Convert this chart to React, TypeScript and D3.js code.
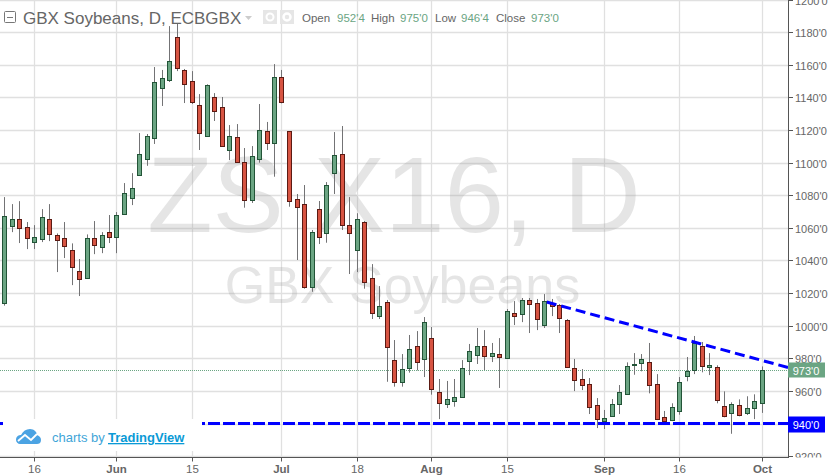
import React from "react";
import * as d3 from "d3";

const opens = [1014.1,1061.3,1065.2,1060.3,1051.5,1053.3,1065.2,1055.4,1053.5,1046.2,1033.3,1029.0,1053.5,1048.4,1057.2,1054.6,1068.7,1078.5,1092.6,1102.4,1114.9,1146.0,1150.9,1176.9,1156.7,1149.9,1135.2,1116.5,1140.1,1134.0,1107.6,1115.6,1100.2,1077.3,1102.1,1119.2,1111.9,1152.4,1119.2,1077.5,1074.5,1023.9,1071.4,1056.7,1093.8,1105.1,1061.6,1046.2,1063.4,1029.0,1006.1,1014.3,978.8,965.3,973.8,987.3,979.4,992.2,959.1,952.1,954.0,956.0,978.5,982.2,987.3,981.6,982.4,980.3,1007.6,1007.3,1015.6,1013.7,1000.2,1013.7,1012.5,1003.3,973.8,967.1,964.0,951.1,941.3,944.4,951.8,957.9,975.7,976.9,977.5,964.0,943.8,942.3,947.8,969.3,972.6,987.3,974.5,974.5,950.5,946.2,951.1,946.2,949.3,952.5];
const highs = [1078.9,1074.6,1076.4,1063.6,1061.7,1071.5,1074.6,1056.6,1063.6,1050.5,1040.9,1056.0,1064.2,1057.4,1067.9,1069.7,1087.5,1093.6,1118.2,1117.6,1158.7,1156.9,1183.8,1185.7,1157.5,1156.2,1142.1,1148.1,1142.7,1140.3,1123.1,1123.7,1109.0,1110.2,1136.0,1125.0,1160.5,1156.9,1119.2,1080.8,1086.3,1058.7,1076.5,1088.1,1118.8,1122.5,1078.9,1069.0,1064.2,1037.8,1024.3,1015.8,991.2,982.6,994.3,996.7,1005.3,999.2,967.3,966.1,967.3,978.9,988.8,998.6,997.3,989.4,992.4,1010.2,1015.1,1017.0,1017.0,1016.4,1019.4,1016.4,1013.3,1004.1,979.6,973.4,967.9,955.6,948.3,955.0,963.6,977.5,983.2,982.6,989.4,970.3,947.7,952.4,968.5,980.8,993.7,990.0,983.2,975.7,959.7,953.0,954.8,956.7,957.9,975];
const lows = [1012.3,1057.4,1050.7,1047.0,1047.0,1051.3,1051.9,1032.9,1041.5,1024.9,1018.2,1028.8,1043.9,1044.5,1050.7,1044.5,1067.9,1074.0,1092.4,1098.1,1111.5,1134.8,1149.5,1156.2,1136.6,1136.0,1107.8,1115.8,1125.6,1110.0,1101.6,1100.0,1072.4,1075.3,1100.0,1107.8,1091.4,1136.4,1073.0,1040.3,1022.7,1020.8,1050.1,1050.9,1080.8,1058.7,1031.7,1032.9,1022.7,1004.1,1004.1,965.6,962.6,962.6,971.2,972.6,968.5,957.7,942.7,949.5,950.3,956.0,969.7,976.5,972.8,977.7,961.8,979.7,1000.4,1002.2,995.5,997.3,998.6,1005.9,995.5,974.2,959.9,960.5,945.8,937.2,936.6,944.4,945.8,957.9,969.9,972.0,958.5,942.1,939.7,941.5,945.4,965.9,970.3,971.4,969.7,952.4,943.8,933.7,944.4,945.2,942.7,946.5];
const closes = [1067.1,1065.2,1060.1,1053.5,1054.2,1066.4,1056.4,1052.7,1048.6,1035.8,1028.4,1053.5,1049.7,1055.4,1054.6,1067.7,1081.2,1084.2,1105.1,1116.2,1149.3,1151.8,1162.2,1158.3,1148.4,1137.4,1118.4,1147.5,1131.9,1110.0,1116.2,1100.6,1077.3,1103.9,1119.9,1111.9,1152.4,1137.0,1076.3,1072.6,1023.9,1057.3,1054.2,1086.1,1104.5,1061.6,1056.7,1065.3,1027.0,1007.9,1011.9,987.1,965.3,973.2,985.5,977.5,1002.1,961.0,952.4,954.8,956.0,973.8,984.3,987.3,981.6,983.0,981.0,1008.8,1006.1,1015.6,1013.5,1003.9,1014.9,1012.3,1004.5,974.8,966.5,963.4,949.9,942.6,943.2,951.8,959.1,975.0,976.3,979.4,963.4,942.7,941.7,949.9,965.3,972.0,989.2,975.1,975.7,954.2,944.4,951.8,945.0,949.3,953.6,973];

const priceTicks = [920,960,980,1000,1020,1040,1060,1080,1100,1120,1140,1160,1180,1200];
const gridPrices = [920,940,960,980,1000,1020,1040,1060,1080,1100,1120,1140,1160,1180,1200];
const timeTickIdx = [4,15,25,37,47,57,67,80,90,101];
const timeTickLabels = ["16","Jun","15","Jul","18","Aug","15","Sep","16","Oct"];
const boldTimeLabels = ["Jun","Jul","Aug","Sep","Oct"];
const lastPrice = 973;
const supportPrice = 940;
const trendIdx = [72.3,104.6];
const trendPrice = [1014.5,974.2];

const UP = "#6ba583", UPB = "#225437", DN = "#d75442", DNB = "#5b1a13", WICK = "#737375", GRID = "#e0e0e0", AXIS = "#555";
const W = 828, H = 475, PR = 789, PB = 457.5;
const SANS = "'Liberation Sans', Arial, sans-serif";

const xs = d3.scaleLinear().domain([0,101]).range([4.5,762]);
const ys = d3.scaleLinear().domain([940,1180]).range([423.5,32.3]);
const cx = (i:number)=>Math.floor(xs(i))+0.5;
const py = (v:number)=>Math.round(ys(v))+0.5;

export default function App(){
  return (
    <svg width={W} height={H} style={{position:"absolute",left:0,top:0,background:"#fff"}} fontFamily={SANS}>
      <defs><clipPath id="axisClip"><rect x={PR} y={0} width={W-PR} height={PB}/></clipPath></defs>
      {gridPrices.map(p=><line key={p} x1={0} x2={PR} y1={py(p)} y2={py(p)} stroke={GRID} strokeWidth={1.3}/>)}
      {timeTickIdx.map(i=><line key={i} x1={cx(i)} x2={cx(i)} y1={0} y2={PB} stroke={GRID} strokeWidth={1.3}/>)}

      <text x={394} y={232} textAnchor="middle" fontSize={107} fill="#999" fillOpacity={0.25}>ZS X16, D</text>
      <text x={402.5} y={303} textAnchor="middle" fontSize={52} fill="#999" fillOpacity={0.25}>GBX Soybeans</text>

      <line x1={0} x2={PR} y1={py(lastPrice)} y2={py(lastPrice)} stroke={UP} strokeWidth={1} strokeDasharray="1 1"/>

      {opens.map((o,i)=>{
        const c=closes[i], up=c>=o, t=py(Math.max(o,c)), b=py(Math.min(o,c));
        return <g key={i}>
          <line x1={cx(i)} x2={cx(i)} y1={ys(highs[i])} y2={ys(lows[i])} stroke={WICK} strokeWidth={1}/>
          <rect x={cx(i)-2} y={t} width={4} height={Math.max(b-t,1)} fill={up?UP:DN} stroke={up?UPB:DNB} strokeWidth={1}/>
        </g>;
      })}

      <line x1={-2} x2={PR} y1={ys(supportPrice)} y2={ys(supportPrice)} stroke="#0000ff" strokeWidth={3} strokeDasharray="12 3"/>
      <line x1={xs(trendIdx[0])} x2={xs(trendIdx[1])} y1={ys(trendPrice[0])} y2={ys(trendPrice[1])} stroke="#0000ff" strokeWidth={3} strokeDasharray="10 5"/>

      <rect x={3} y={419} width={199} height={32} fill="#fff"/>
      <path d="M16 440 C16 436 19 435 21 435 C23 431 26 429 30 429 C34 429 37 432 37 435 C40 436 41 438 41 440 C41 443 39 444 37 444 L20 444 C18 444 16 442 16 440 Z" fill="#4ba3e3"/>
      <path d="M18 441 L25 435 L31 440 L37 434" fill="none" stroke="#fff" strokeWidth={1.8}/>
      <text x={52} y={442} fontSize={13} fill="#3fa5d8">charts by</text>
      <text x={108} y={442} fontSize={13} fontWeight="bold" fill="#0a9ad6" textDecoration="underline">TradingView</text>

      <line x1={0} x2={PR} y1={PB} y2={PB} stroke={AXIS} strokeWidth={1}/>
      <line x1={PR-0.5} x2={PR-0.5} y1={0} y2={PB} stroke={AXIS} strokeWidth={1}/>
      {timeTickIdx.map((i,k)=><g key={i}>
        <line x1={cx(i)} x2={cx(i)} y1={PB} y2={PB+4} stroke={AXIS}/>
        <text x={cx(i)} y={473} textAnchor="middle" fontSize={11.5} fill="#666" fontWeight={boldTimeLabels.includes(timeTickLabels[k])?"bold":"normal"}>{timeTickLabels[k]}</text>
      </g>)}
      <g clipPath="url(#axisClip)">
      {priceTicks.map(p=><g key={p}>
        <line x1={PR-0.5} x2={PR+4} y1={py(p)} y2={py(p)} stroke={AXIS}/>
        <text x={795} y={py(p)+4} fontSize={11} fill="#666">{`${p}'0`}</text>
      </g>)}
      </g>

      <rect x={788} y={py(lastPrice)-8} width={37} height={15} fill={UP}/>
      <text x={806} y={py(lastPrice)+4} textAnchor="middle" fontSize={11} fill="#fff">{`${lastPrice}'0`}</text>
      <rect x={788} y={py(supportPrice)-8} width={37} height={16} fill="#0000ff"/>
      <text x={806} y={py(supportPrice)+4} textAnchor="middle" fontSize={11} fill="#fff">{`${supportPrice}'0`}</text>

      <rect x={4.5} y={11.5} width={11} height={11} fill="none" stroke="#777" rx={1}/>
      <line x1={7} x2={13} y1={17.5} y2={17.5} stroke="#777"/>
      <text x={23} y={24} fontSize={17} fill="#666">GBX Soybeans, D, ECBGBX</text>
      <path d="M245 16 L252 16 L248.5 20 Z" fill="#ccc"/>
      <rect x={263} y={10} width={14} height={14} fill="#e6e6e6"/>
      <circle cx={270} cy={17} r={3.5} fill="none" stroke="#fff" strokeWidth={2}/>
      <rect x={280} y={10} width={14} height={14} fill="#e6e6e6"/>
      <circle cx={287} cy={17} r={3.5} fill="none" stroke="#fff" strokeWidth={2.5}/>
      <g fontSize={11.5}>
        <text x={302} y={22} fill="#666">Open</text>
        <text x={337} y={22} fill={UP}>952'4</text>
        <text x={371} y={22} fill="#666">High</text>
        <text x={400} y={22} fill={UP}>975'0</text>
        <text x={435} y={22} fill="#666">Low</text>
        <text x={461} y={22} fill={UP}>946'4</text>
        <text x={496} y={22} fill="#666">Close</text>
        <text x={531} y={22} fill={UP}>973'0</text>
      </g>
    </svg>
  );
}
